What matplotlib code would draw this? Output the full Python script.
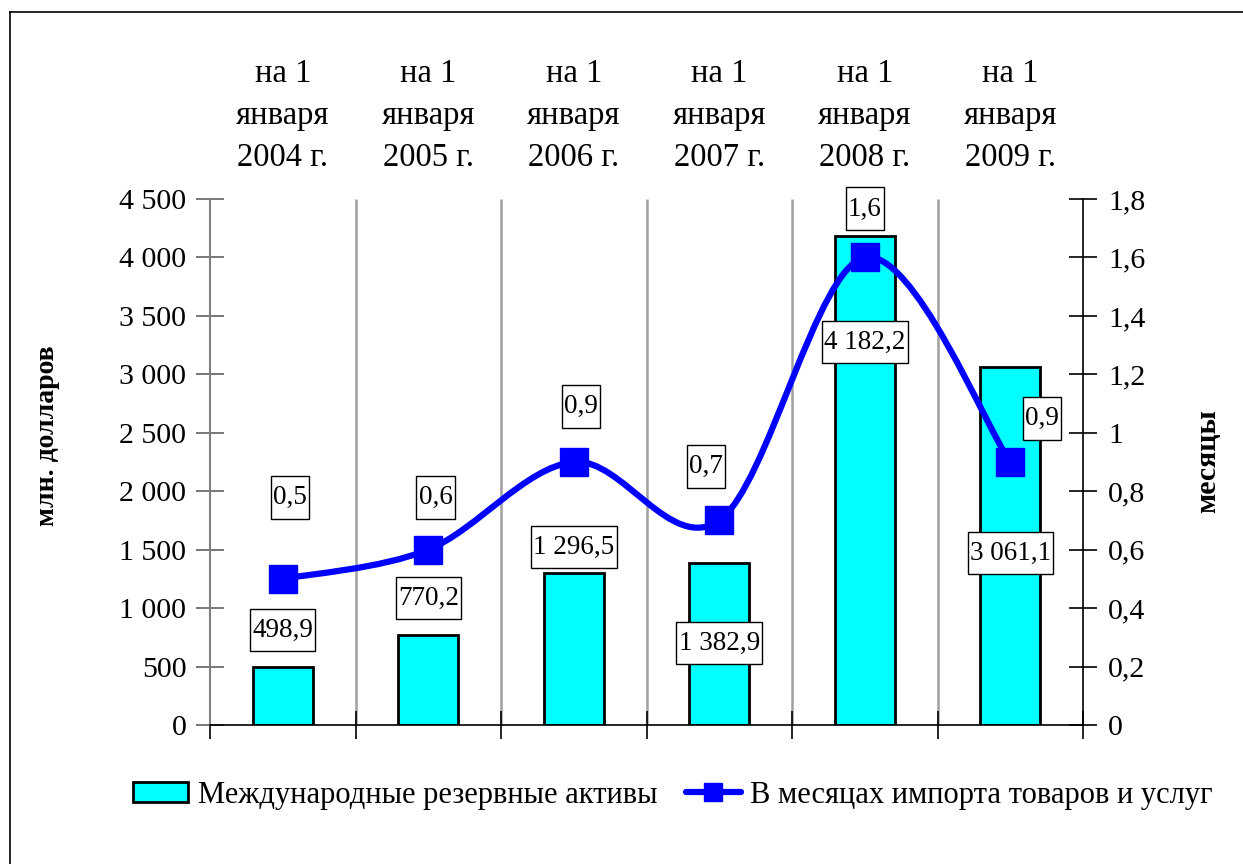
import matplotlib
matplotlib.use("Agg")
import matplotlib.pyplot as plt
import matplotlib.transforms as mtransforms
import numpy as np
from matplotlib.path import Path
from matplotlib.patches import PathPatch, Patch
from matplotlib.lines import Line2D

plt.rcParams['font.family'] = ['Liberation Serif', 'DejaVu Serif']

# ----------------- data -----------------
categories = ["на 1\nянваря\n2004 г.", "на 1\nянваря\n2005 г.", "на 1\nянваря\n2006 г.",
              "на 1\nянваря\n2007 г.", "на 1\nянваря\n2008 г.", "на 1\nянваря\n2009 г."]
reserves = [498.9, 770.2, 1296.5, 1382.9, 4182.2, 3061.1]
months = [0.5, 0.6, 0.9, 0.7, 1.6, 0.9]
reserve_labels = ["498,9", "770,2", "1 296,5", "1 382,9", "4 182,2", "3 061,1"]
month_labels = ["0,5", "0,6", "0,9", "0,7", "1,6", "0,9"]
left_ticks = [0, 500, 1000, 1500, 2000, 2500, 3000, 3500, 4000, 4500]
left_tick_labels = ["0", "500", "1 000", "1 500", "2 000", "2 500", "3 000", "3 500", "4 000", "4 500"]
right_ticks = [0, 0.2, 0.4, 0.6, 0.8, 1.0, 1.2, 1.4, 1.6, 1.8]
right_tick_labels = ["0", "0,2", "0,4", "0,6", "0,8", "1", "1,2", "1,4", "1,6", "1,8"]
bar_name = "Международные резервные активы"
line_name = "В месяцах импорта товаров и услуг"

# label placement (layout only)
reserve_label_y = [813, 1086, 1523, 701, 3277, 1471]
month_label_dx = [0.05, 0.05, 0.05, -0.09, 0.0, 0.22]
month_label_y = [0.78, 0.78, 1.09, 0.886, 1.766, 1.05]

x = np.arange(len(categories))


def label_box(x0, y0, width, height, mutation_size):
    # excel-like label frame: tight on the sides, more room above/below
    px = 0.08 * mutation_size
    py = 0.33 * mutation_size
    x0, y0 = x0 - px, y0 - py
    x1, y1 = x0 + width + 2 * px, y0 + height + 2 * py
    return Path([(x0, y0), (x1, y0), (x1, y1), (x0, y1), (x0, y0)], closed=True)


fig = plt.figure(figsize=(12.43, 8.64), dpi=100)
ax = fig.add_axes([210 / 1243, 1 - 725 / 864, 873 / 1243, 526 / 864])
ax2 = ax.twinx()

# vertical grid between categories
ax.vlines(x[:-1] + 0.5, 0, 4500, color='#A0A0A0', lw=1.8, zorder=0)

ax.bar(x, reserves, width=0.41, color='#00FFFF', edgecolor='black', lw=2, zorder=2)
ax.set_xlim(-0.5, len(categories) - 0.5)
ax.set_ylim(0, 4500)
ax2.set_ylim(0, 1.8)

# smooth line (bezier through the points, like a smoothed Excel line)
pts = np.column_stack([x, months]).astype(float)
verts = [pts[0]]
codes = [Path.MOVETO]
n = len(pts)
for i in range(n - 1):
    p0 = pts[i - 1] if i > 0 else pts[i]
    p1 = pts[i]
    p2 = pts[i + 1]
    p3 = pts[i + 2] if i + 2 < n else pts[i + 1]
    verts += [p1 + (p2 - p0) / 6, p2 - (p3 - p1) / 6, p2]
    codes += [Path.CURVE4] * 3
ax2.add_patch(PathPatch(Path(verts, codes), fill=False, edgecolor='#0000FF', lw=4.5,
                        capstyle='round', zorder=3))
ax2.plot(x, months, linestyle='none', marker='s', ms=20, color='#0000FF', zorder=4)

# axes styling
ax.spines['top'].set_visible(False)
ax2.spines['top'].set_visible(False)
ax2.spines['left'].set_visible(False)
ax2.spines['bottom'].set_visible(False)
ax.spines['left'].set_color('#808080')
ax.spines['left'].set_linewidth(1.5)
ax.spines['bottom'].set_color('black')
ax.spines['bottom'].set_linewidth(1.2)
ax.spines['right'].set_visible(False)
ax2.spines['right'].set_color('black')
ax2.spines['right'].set_linewidth(1.2)

ax.set_yticks(left_ticks)
ax.set_yticklabels(left_tick_labels)
ax2.set_yticks(right_ticks)
ax2.set_yticklabels(right_tick_labels)
ax.tick_params(axis='y', direction='inout', length=20, width=1.2, color='#606060',
               labelsize=21.5, pad=7)
ax2.tick_params(axis='y', direction='inout', length=20, width=1.2, color='black',
                labelsize=21.5, pad=8)
ax.set_xticks(np.arange(-0.5, len(categories), 1.0))
ax.set_xticklabels([])
ax.tick_params(axis='x', direction='inout', length=20, width=1.2, color='black')

# category labels on top
trans = mtransforms.blended_transform_factory(ax.transData, ax.transAxes)
for xi, cat in zip(x, categories):
    ax.text(xi, (725 - 116) / 526, cat, transform=trans, ha='center', va='center',
            fontsize=23.5, linespacing=1.5)

# data labels
box = dict(boxstyle=label_box, fc='white', ec='black', lw=1)
for xi, lab, ly in zip(x, reserve_labels, reserve_label_y):
    ax2.text(xi, ly, lab, transform=ax.transData, ha='center', va='center',
             fontsize=19.5, bbox=box, zorder=5)
for xi, lab, dx, ly in zip(x, month_labels, month_label_dx, month_label_y):
    ax2.text(xi + dx, ly, lab, ha='center', va='center', fontsize=19.5, bbox=box, zorder=5)

# axis titles
fig.text(47 / 1243, 1 - 436 / 864, "млн. долларов", rotation=90, fontweight='bold',
         fontsize=20, ha='center', va='center')
fig.text(1208 / 1243, 1 - 461 / 864, "месяцы", rotation=90, fontweight='bold',
         fontsize=21.5, ha='center', va='center')

# legend
handles = [Patch(facecolor='#00FFFF', edgecolor='black', lw=2),
           Line2D([0], [0], color='#0000FF', lw=4.5, marker='s', ms=13, solid_capstyle='round')]
fig.legend(handles, [bar_name, line_name], loc='center', bbox_to_anchor=(673 / 1243, 1 - 795 / 864),
           ncol=2, frameon=False, fontsize=22, handlelength=1.8, handleheight=0.65,
           handletextpad=0.32, columnspacing=0.93, borderaxespad=0)

# partial chart border (left and top edges)
fig.add_artist(Line2D([10 / 1243, 10 / 1243], [0, 1 - 12 / 864], transform=fig.transFigure,
                      color='black', lw=1.2))
fig.add_artist(Line2D([10 / 1243, 1], [1 - 12 / 864, 1 - 12 / 864], transform=fig.transFigure,
                      color='black', lw=1.2))

fig.savefig("out.png", dpi=100)
